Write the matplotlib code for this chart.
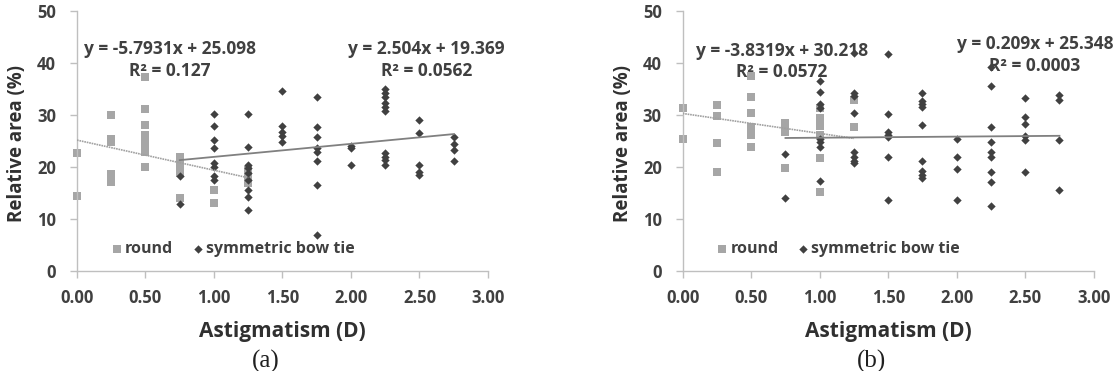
import matplotlib
matplotlib.use('Agg')
import matplotlib.pyplot as plt

plt.rcParams['font.family'] = ['Open Sans', 'DejaVu Sans']
plt.rcParams['font.weight'] = 'bold'

# panel (a)
a_round_x = [0, 0, 0.25, 0.25, 0.25, 0.25, 0.25, 0.5, 0.5, 0.5, 0.5, 0.5, 0.5, 0.5, 0.5, 0.5,
             0.75, 0.75, 0.75, 0.75, 0.75, 0.75, 1.0, 1.0, 1.25, 1.25, 1.25]
a_round_y = [22.6, 14.4, 29.9, 25.3, 24.8, 18.6, 17.1, 37.2, 31.1, 28.0, 26.1, 25.4, 24.8, 23.8, 22.9, 20.0,
             21.9, 21.3, 20.3, 19.4, 18.7, 13.9, 15.5, 13.1, 19.4, 18.1, 16.8]
a_bow_x = [0.75, 0.75, 1.0, 1.0, 1.0, 1.0, 1.0, 1.0, 1.0, 1.0,
           1.25, 1.25, 1.25, 1.25, 1.25, 1.25, 1.25, 1.25, 1.25,
           1.5, 1.5, 1.5, 1.5, 1.5,
           1.75, 1.75, 1.75, 1.75, 1.75, 1.75, 1.75, 1.75,
           2.0, 2.0, 2.0,
           2.25, 2.25, 2.25, 2.25, 2.25, 2.25, 2.25, 2.25, 2.25, 2.25,
           2.5, 2.5, 2.5, 2.5, 2.5,
           2.75, 2.75, 2.75, 2.75]
a_bow_y = [18.2, 12.9, 30.1, 27.8, 25.1, 23.5, 20.6, 20.0, 18.1, 17.4,
           30.1, 23.8, 20.3, 19.7, 18.7, 17.4, 15.5, 14.2, 11.7,
           34.6, 27.8, 26.7, 25.8, 24.8,
           33.3, 27.7, 25.6, 23.5, 22.9, 21.0, 16.5, 6.9,
           24.0, 23.5, 20.4,
           34.9, 34.1, 33.3, 32.2, 31.4, 30.6, 22.7, 21.9, 21.2, 20.4,
           29.0, 26.5, 20.3, 19.0, 18.3,
           25.6, 24.4, 23.2, 21.0]

# panel (b)
b_round_x = [0, 0, 0.25, 0.25, 0.25, 0.25, 0.5, 0.5, 0.5, 0.5, 0.5, 0.5, 0.5, 0.5,
             0.75, 0.75, 0.75, 0.75, 1.0, 1.0, 1.0, 1.0, 1.0, 1.0, 1.25, 1.25]
b_round_y = [31.2, 25.4, 31.9, 29.7, 24.6, 19.0, 37.4, 33.3, 30.3, 27.7, 26.9, 26.7, 26.1, 23.8,
             28.3, 27.4, 26.7, 19.7, 31.2, 29.3, 27.8, 26.0, 21.7, 15.2, 32.9, 27.7]
b_bow_x = [0.75, 0.75, 1.0, 1.0, 1.0, 1.0, 1.0, 1.0, 1.0, 1.0,
           1.25, 1.25, 1.25, 1.25, 1.25, 1.25, 1.25, 1.25,
           1.5, 1.5, 1.5, 1.5, 1.5, 1.5, 1.5,
           1.75, 1.75, 1.75, 1.75, 1.75, 1.75, 1.75, 1.75, 1.75,
           2.0, 2.0, 2.0, 2.0,
           2.25, 2.25, 2.25, 2.25, 2.25, 2.25, 2.25, 2.25, 2.25,
           2.5, 2.5, 2.5, 2.5, 2.5, 2.5,
           2.75, 2.75, 2.75, 2.75]
b_bow_y = [22.4, 13.9, 36.5, 34.4, 32.1, 31.2, 25.4, 24.8, 23.8, 17.2,
           41.8, 34.1, 33.5, 30.3, 22.9, 21.9, 21.0, 20.6,
           41.7, 30.1, 26.7, 26.1, 25.6, 21.8, 13.6,
           34.2, 32.7, 32.1, 31.5, 28.0, 21.0, 19.2, 18.4, 17.8,
           25.3, 21.9, 19.6, 13.6,
           39.2, 35.5, 27.6, 24.8, 22.9, 21.8, 19.0, 17.1, 12.4,
           33.1, 29.6, 28.2, 25.8, 25.1, 19.0,
           33.8, 32.8, 25.1, 15.5]

# trend lines: slope, intercept, x range
a_fit_round = (-5.7931, 25.098, 0.0, 1.25)
a_fit_bow = (2.504, 19.369, 0.75, 2.75)
b_fit_round = (-3.8319, 30.218, 0.0, 1.25)
b_fit_bow = (0.209, 25.348, 0.75, 2.75)

a_labels = ['y = -5.7931x + 25.098', 'R² = 0.127', 'y = 2.504x + 19.369', 'R² = 0.0562']
b_labels = ['y = -3.8319x + 30.218', 'R² = 0.0572', 'y = 0.209x + 25.348', 'R² = 0.0003']

x_ticks = [0, 0.5, 1.0, 1.5, 2.0, 2.5, 3.0]
y_ticks = [0, 10, 20, 30, 40, 50]

round_col = '#a6a6a6'
bow_col = '#404040'
axis_col = '#bfbfbf'
text_col = '#404040'

fig = plt.figure(figsize=(11.19, 3.71), dpi=100)
ax_a = fig.add_axes([0.0688, 0.2705, 0.3673, 0.701])
ax_b = fig.add_axes([0.6101, 0.2705, 0.3673, 0.701])


def draw(ax, rx, ry, bx, by, fr, fb, labels, eq_pos, tag):
    ax.scatter(rx, ry, marker='s', s=28, color=round_col, zorder=2, linewidths=0, clip_on=False)
    ax.scatter(bx, by, marker='D', s=18, color=bow_col, zorder=3, linewidths=0, clip_on=False)
    m, c, x0, x1 = fr
    ax.plot([x0, x1], [m * x0 + c, m * x1 + c], color='#a0a0a0', lw=1.2, ls=(0, (1, 0.5)), zorder=4)
    m, c, x0, x1 = fb
    ax.plot([x0, x1], [m * x0 + c, m * x1 + c], color='#808080', lw=1.3, zorder=4)

    (lx, ly1, ly2), (rx_, ry1, ry2) = eq_pos
    kw = dict(ha='center', va='center', fontsize=12.5, color=text_col, fontweight='bold')
    ax.text(lx, ly1, labels[0], **kw)
    ax.text(lx, ly2, labels[1], **kw)
    ax.text(rx_, ry1, labels[2], **kw)
    ax.text(rx_, ry2, labels[3], **kw)

    # legend drawn inside plot like excel
    ax.scatter([0.29], [4.1], marker='s', s=28, color=round_col, linewidths=0)
    ax.text(0.35, 4.1, 'round', ha='left', va='center', fontsize=11.5, color=text_col, fontweight='bold')
    ax.scatter([0.88], [4.1], marker='D', s=18, color=bow_col, linewidths=0)
    ax.text(0.94, 4.1, 'symmetric bow tie', ha='left', va='center', fontsize=11.5, color=text_col, fontweight='bold')

    ax.set_xlim(0, 3)
    ax.set_ylim(0, 50)
    ax.set_xticks(x_ticks)
    ax.set_xticklabels(['%.2f' % t for t in x_ticks])
    ax.set_yticks(y_ticks)
    for s in ['top', 'right']:
        ax.spines[s].set_visible(False)
    for s in ['left', 'bottom']:
        ax.spines[s].set_color(axis_col)
        ax.spines[s].set_linewidth(1.0)
    ax.tick_params(axis='both', colors=axis_col, length=5, width=1.0, direction='out')
    ax.tick_params(axis='x', labelcolor=text_col, labelsize=12, pad=8)
    ax.tick_params(axis='y', labelcolor=text_col, labelsize=12, pad=10)
    for lab in ax.get_xticklabels() + ax.get_yticklabels():
        lab.set_fontweight('bold')
    ax.set_xlabel('Astigmatism (D)', fontsize=15, fontweight='bold', color='#303030', labelpad=10)
    ax.set_ylabel('Relative area (%)', fontsize=13.5, fontweight='bold', color='#303030')
    ax.yaxis.set_label_coords(-0.122, 0.487)
    ax.text(0.46, -0.35, tag, transform=ax.transAxes, ha='center', va='center',
            fontsize=18, family=['Liberation Serif', 'DejaVu Serif'], fontweight='normal', color='#202020')


draw(ax_a, a_round_x, a_round_y, a_bow_x, a_bow_y, a_fit_round, a_fit_bow, a_labels,
     ((0.68, 42.6, 38.4), (2.55, 42.6, 38.4)), '(a)')
draw(ax_b, b_round_x, b_round_y, b_bow_x, b_bow_y, b_fit_round, b_fit_bow, b_labels,
     ((0.725, 42.3, 38.2), (2.57, 43.5, 39.3)), '(b)')

fig.savefig('out.png', dpi=100)
